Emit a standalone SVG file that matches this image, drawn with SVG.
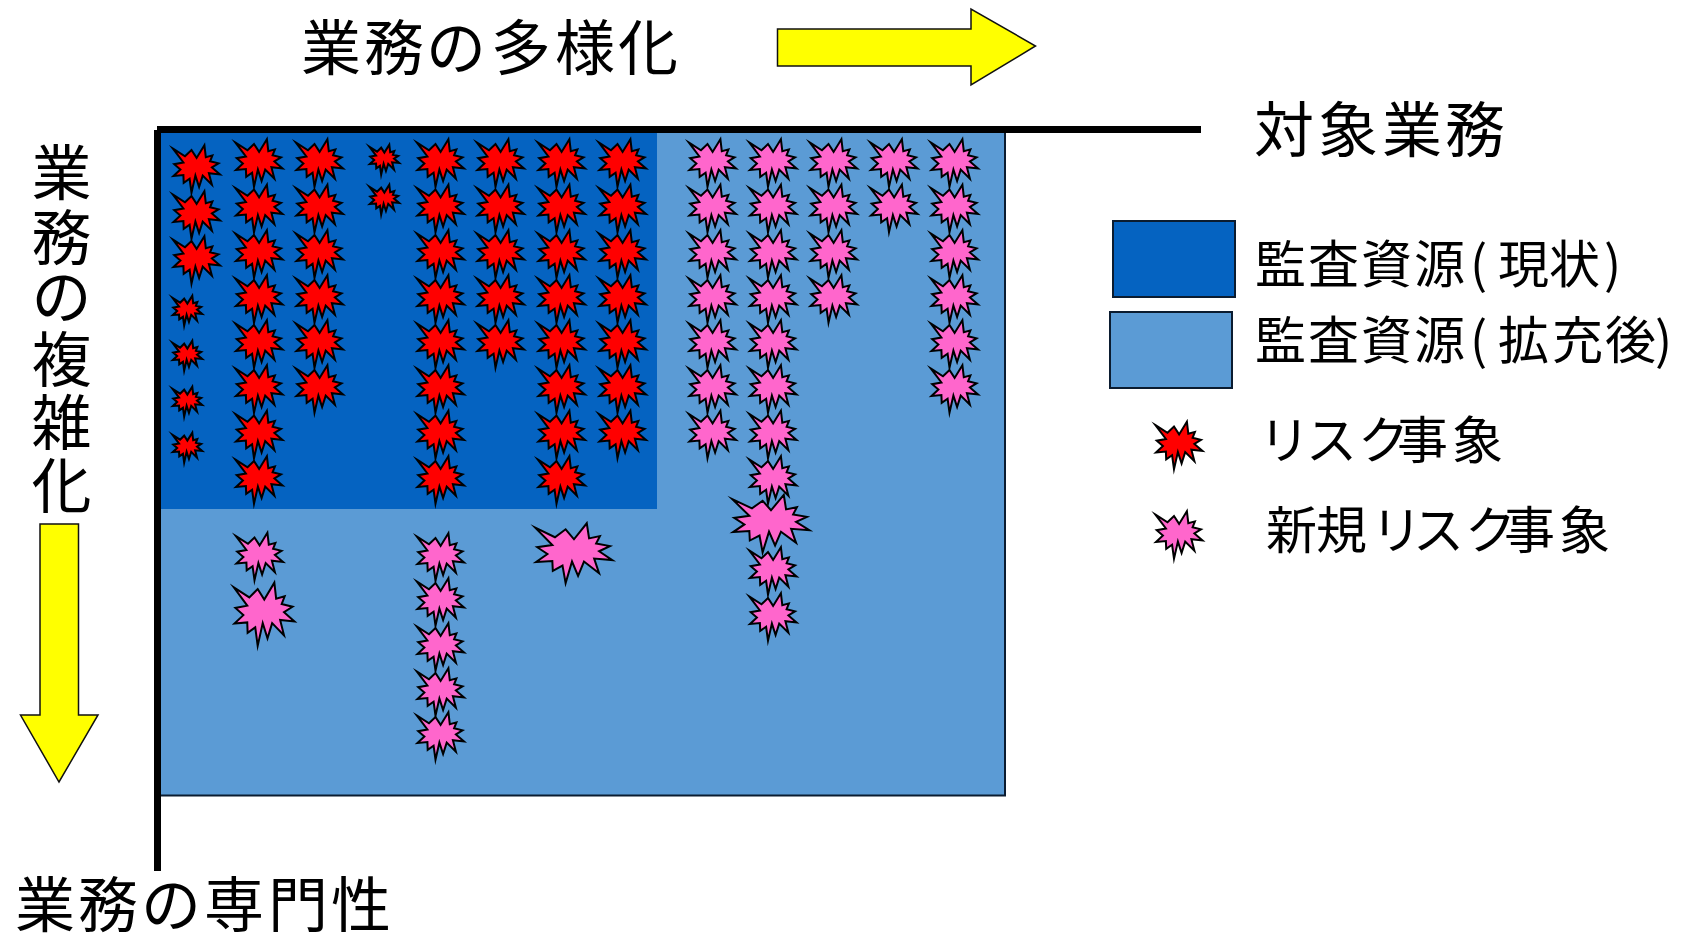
<svg xmlns="http://www.w3.org/2000/svg" xmlns:xlink="http://www.w3.org/1999/xlink" width="1686" height="934" viewBox="0 0 1686 934">
<style>
text{font-family:"Noto Sans CJK JP","Noto Sans",sans-serif;fill:#000}
.t{font-size:60px}
.l{font-size:51px}
.b{stroke:#000;stroke-width:2;stroke-linejoin:miter;stroke-miterlimit:40}
.s{vector-effect:non-scaling-stroke}
.r{fill:#ff0000}
.p{fill:#ff66cc}
.y{fill:#ffff00;stroke:#111;stroke-width:1.5}
</style>
<defs>
<polygon id="st" class="s" points="-23,-19.300 -11,-11.700 -4.500,-18 .6,-10.100 8.400,-22.800 9.800,-10.800 16.400,-12.600 14.100,-6.700 22.500,-4.700 15.900,-.6 24,6.400 12.900,5.200 15.900,16.800 6.700,7.600 3.100,19 -.6,7.600 -4.500,24.700 -6.400,10.800 -12.300,14.900 -12.600,7.100 -22.500,7.900 -15.600,1.600 -21.800,-3.800 -12.600,-5.500"/>
</defs>
<rect id="expanded" x="159" y="132" width="846" height="663.500" fill="#5b9bd5" stroke="#0b1c30" stroke-width="2"/>
<rect id="current" x="161" y="133" width="496" height="376" fill="#0563c1"/>
<rect x="157" y="126" width="1044" height="7" fill="#000"/>
<rect x="154" y="130" width="7" height="741" fill="#000"/>

<g id="red" class="b r">
<use xlink:href="#st" transform="translate(196,168)"/><use xlink:href="#st" transform="translate(196,214)"/><use xlink:href="#st" transform="translate(196,259)"/>
<use xlink:href="#st" transform="translate(187,310) scale(.63)"/><use xlink:href="#st" transform="translate(187,355) scale(.63)"/><use xlink:href="#st" transform="translate(187,401) scale(.63)"/><use xlink:href="#st" transform="translate(187,447) scale(.63)"/>
<use xlink:href="#st" transform="translate(384,159) scale(.63)"/><use xlink:href="#st" transform="translate(384,199) scale(.63)"/>
<use xlink:href="#st" transform="translate(258.500,162)"/><use xlink:href="#st" transform="translate(258.500,207.500)"/><use xlink:href="#st" transform="translate(258.500,253)"/><use xlink:href="#st" transform="translate(258.500,298)"/><use xlink:href="#st" transform="translate(258.500,343)"/><use xlink:href="#st" transform="translate(258.500,388)"/><use xlink:href="#st" transform="translate(258.500,433.500)"/><use xlink:href="#st" transform="translate(258.500,479)"/>
<use xlink:href="#st" transform="translate(319,162)"/><use xlink:href="#st" transform="translate(319,207.500)"/><use xlink:href="#st" transform="translate(319,253)"/><use xlink:href="#st" transform="translate(319,298)"/><use xlink:href="#st" transform="translate(319,343)"/><use xlink:href="#st" transform="translate(319,388)"/>
<use xlink:href="#st" transform="translate(440,162)"/><use xlink:href="#st" transform="translate(440,207.500)"/><use xlink:href="#st" transform="translate(440,253)"/><use xlink:href="#st" transform="translate(440,298)"/><use xlink:href="#st" transform="translate(440,343)"/><use xlink:href="#st" transform="translate(440,388)"/><use xlink:href="#st" transform="translate(440,433.500)"/><use xlink:href="#st" transform="translate(440,479)"/>
<use xlink:href="#st" transform="translate(500,162)"/><use xlink:href="#st" transform="translate(500,207.500)"/><use xlink:href="#st" transform="translate(500,253)"/><use xlink:href="#st" transform="translate(500,298)"/><use xlink:href="#st" transform="translate(500,343)"/>
<use xlink:href="#st" transform="translate(561,162)"/><use xlink:href="#st" transform="translate(561,207.500)"/><use xlink:href="#st" transform="translate(561,253)"/><use xlink:href="#st" transform="translate(561,298)"/><use xlink:href="#st" transform="translate(561,343)"/><use xlink:href="#st" transform="translate(561,388)"/><use xlink:href="#st" transform="translate(561,433.500)"/><use xlink:href="#st" transform="translate(561,479)"/>
<use xlink:href="#st" transform="translate(622,162)"/><use xlink:href="#st" transform="translate(622,207.500)"/><use xlink:href="#st" transform="translate(622,253)"/><use xlink:href="#st" transform="translate(622,298)"/><use xlink:href="#st" transform="translate(622,343)"/><use xlink:href="#st" transform="translate(622,388)"/><use xlink:href="#st" transform="translate(622,433.500)"/>
</g>
<g id="pink" class="b p">
<use xlink:href="#st" transform="translate(712,162)"/><use xlink:href="#st" transform="translate(712,207.500)"/><use xlink:href="#st" transform="translate(712,253)"/><use xlink:href="#st" transform="translate(712,298)"/><use xlink:href="#st" transform="translate(712,343)"/><use xlink:href="#st" transform="translate(712,388)"/><use xlink:href="#st" transform="translate(712,433.500)"/>
<use xlink:href="#st" transform="translate(772.500,162)"/><use xlink:href="#st" transform="translate(772.500,207.500)"/><use xlink:href="#st" transform="translate(772.500,253)"/><use xlink:href="#st" transform="translate(772.500,298)"/><use xlink:href="#st" transform="translate(772.500,343)"/><use xlink:href="#st" transform="translate(772.500,388)"/><use xlink:href="#st" transform="translate(772.500,433.500)"/><use xlink:href="#st" transform="translate(772.500,479)"/>
<use xlink:href="#st" transform="translate(833,162)"/><use xlink:href="#st" transform="translate(833,207.500)"/><use xlink:href="#st" transform="translate(833,253)"/><use xlink:href="#st" transform="translate(833,298)"/>
<use xlink:href="#st" transform="translate(893.500,162)"/><use xlink:href="#st" transform="translate(893.500,207.500)"/>
<use xlink:href="#st" transform="translate(954,162)"/><use xlink:href="#st" transform="translate(954,207.500)"/><use xlink:href="#st" transform="translate(954,253)"/><use xlink:href="#st" transform="translate(954,298)"/><use xlink:href="#st" transform="translate(954,343)"/><use xlink:href="#st" transform="translate(954,388)"/>
<use xlink:href="#st" transform="translate(770,522.500) scale(1.64,1.21)"/>
<use xlink:href="#st" transform="translate(772.500,570)"/><use xlink:href="#st" transform="translate(772.500,616)"/>
<use xlink:href="#st" transform="translate(573,552) scale(1.64,1.26)"/>
<use xlink:href="#st" transform="translate(259,555.500)"/>
<use xlink:href="#st" transform="translate(263.500,613) scale(1.29,1.33)"/>
<use xlink:href="#st" transform="translate(440,556)"/><use xlink:href="#st" transform="translate(440,601)"/><use xlink:href="#st" transform="translate(440,646)"/><use xlink:href="#st" transform="translate(440,691)"/><use xlink:href="#st" transform="translate(440,735)"/>
</g>
<polygon id="arrow-right" class="y" points="777.500,29 971,29 971,9 1035.500,46 971,85 971,66 777.500,66"/>
<polygon id="arrow-down" class="y" points="40,524 78.500,524 78.500,715 98,715 59,782 20.500,715 40,715"/>
<g id="titles">
<text class="t" x="301 364 426 491 555 618" y="69.500">業務の多様化</text>
<text class="t" x="1254 1318 1382 1445" y="152">対象業務</text>
<text class="t" x="15 78 141 204 268 331" y="927">業務の専門性</text>
<text class="t" x="31.500 31.500 31.500 31.500 31.500 31.500" y="195 260 319 382 445 508">業務の複雑化</text>
</g>
<g id="legend">
<rect x="1113" y="221" width="122" height="76" fill="#0563c1" stroke="#0b1c30" stroke-width="2"/>
<rect x="1110" y="312" width="122" height="76" fill="#5b9bd5" stroke="#0b1c30" stroke-width="2"/>
<use xlink:href="#st" class="b r" transform="translate(1178.500,444.500)"/>
<use xlink:href="#st" class="b p" transform="translate(1178.500,534)"/>
<text class="l" x="1255 1308 1361 1414 1470 1498 1549 1604" y="283">監査資源(現状)</text>
<text class="l" x="1255 1308 1361 1414 1470 1498 1552 1605 1655" y="359">監査資源(拡充後)</text>
<text class="l" x="1259 1306 1358 1397 1452" y="459">リスク事象</text>
<text class="l" x="1266 1316 1371 1413 1465 1504 1559" y="549">新規リスク事象</text>
</g>
</svg>
